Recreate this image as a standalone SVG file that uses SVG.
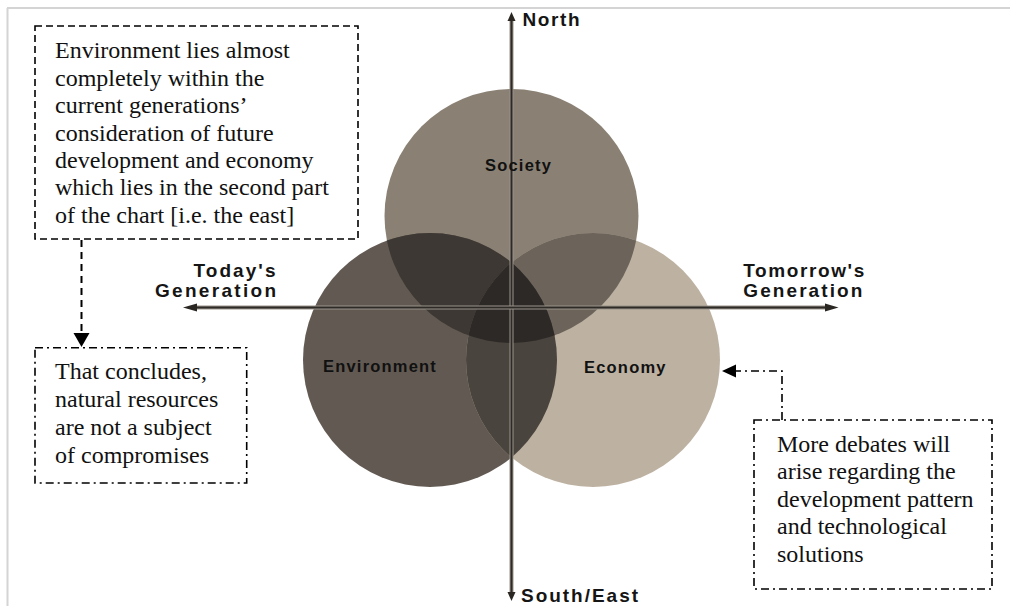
<svg xmlns="http://www.w3.org/2000/svg" width="1010" height="606" viewBox="0 0 1010 606">
<style>
.box{fill:none;stroke:#000;stroke-width:1.6}
.dash{stroke-dasharray:7 4}
.dd{stroke-dasharray:8 4 2 4}
.t{font-family:"Liberation Serif","Times New Roman",serif;font-size:24px;fill:#111}
.lb{font-family:"Liberation Sans",Arial,sans-serif;font-weight:bold;font-size:19px;fill:#151515}
.cl{font-family:"Liberation Sans",Arial,sans-serif;font-weight:bold;font-size:16.5px;letter-spacing:1.2px;fill:#111}
.ax1{stroke:#9a938c;stroke-width:4;fill:none}
.ax2{stroke:#2e2a26;stroke-width:2;fill:none}
.axh{fill:#2a2622}
</style>
<defs>
<clipPath id="cSoc"><circle cx="511.5" cy="216" r="127"/></clipPath>
<clipPath id="cEnv"><circle cx="430" cy="360" r="127"/></clipPath>
<clipPath id="cEco"><circle cx="593" cy="360" r="127"/></clipPath>
</defs>
<rect width="1010" height="606" fill="#fff"/>
<g id="frame" stroke="#d4d4d4" stroke-width="2" fill="none">
<line x1="7" y1="8" x2="1010" y2="8"/>
<line x1="7.5" y1="8" x2="7.5" y2="606"/>
</g>
<g id="node-society">
<circle cx="511.5" cy="216" r="127" fill="#8a8174"/>
</g>
<g id="node-environment">
<circle cx="430" cy="360" r="127" fill="#625a52"/>
</g>
<g id="node-economy">
<circle cx="593" cy="360" r="127" fill="#bdb1a1"/>
</g>
<g id="overlaps">
<circle cx="430" cy="360" r="127" fill="#3d3833" clip-path="url(#cSoc)"/>
<circle cx="593" cy="360" r="127" fill="#6c645a" clip-path="url(#cSoc)"/>
<circle cx="593" cy="360" r="127" fill="#4a443e" clip-path="url(#cEnv)"/>
<g clip-path="url(#cSoc)"><circle cx="593" cy="360" r="127" fill="#2d2926" clip-path="url(#cEnv)"/></g>
</g>
<g id="axes">
<line class="ax1" x1="511.5" y1="20" x2="511.5" y2="593"/>
<line class="ax2" x1="511.5" y1="20" x2="511.5" y2="593"/>
<line class="ax1" x1="196" y1="307.5" x2="826" y2="307.5"/>
<line class="ax2" x1="196" y1="307.5" x2="826" y2="307.5"/>
<polygon class="axh" points="511.5,12 507.5,21 515.5,21"/>
<polygon class="axh" points="511.5,601 507.5,592 515.5,592"/>
<polygon class="axh" points="183,307.5 197,303.5 197,311.5"/>
<polygon class="axh" points="838.5,307.5 825,303.5 825,311.5"/>
</g>
<g id="labels">
<text class="lb" x="522.5" y="26" textLength="57" lengthAdjust="spacing">North</text>
<text class="lb" x="521" y="602" textLength="117" lengthAdjust="spacing">South/East</text>
<text class="lb" x="193.5" y="277.3" textLength="82" lengthAdjust="spacing">Today's</text>
<text class="lb" x="155" y="297.3" textLength="121" lengthAdjust="spacing">Generation</text>
<text class="lb" x="743.3" y="276.7" textLength="121" lengthAdjust="spacing">Tomorrow's</text>
<text class="lb" x="743.3" y="296.7" textLength="119" lengthAdjust="spacing">Generation</text>
<text class="cl" x="485" y="171">Society</text>
<text class="cl" x="323" y="371.7">Environment</text>
<text class="cl" x="584" y="372.7">Economy</text>
</g>
<g id="node-box1">
<rect class="box dash" x="35" y="26" width="323" height="213"/>
<text class="t" x="55" y="58.3">Environment lies almost</text>
<text class="t" x="55" y="85.7">completely within the</text>
<text class="t" x="55" y="113.1">current generations’</text>
<text class="t" x="55" y="140.5">consideration of future</text>
<text class="t" x="55" y="167.9">development and economy</text>
<text class="t" x="55" y="195.3">which lies in the second part</text>
<text class="t" x="55" y="222.7">of the chart [i.e. the east]</text>
</g>
<g id="node-box2">
<rect class="box dd" x="35" y="347.7" width="211.7" height="135.3"/>
<text class="t" x="55" y="379.4">That concludes,</text>
<text class="t" x="55" y="407.2">natural resources</text>
<text class="t" x="55" y="435">are not a subject</text>
<text class="t" x="55" y="462.8">of compromises</text>
</g>
<g id="node-box3">
<rect class="box dd" x="754" y="420" width="238" height="169"/>
<text class="t" x="777" y="451.7">More debates will</text>
<text class="t" x="777" y="479.2">arise regarding the</text>
<text class="t" x="777" y="506.7">development pattern</text>
<text class="t" x="777" y="534.2">and technological</text>
<text class="t" x="777" y="561.7">solutions</text>
</g>
<g id="connectors">
<line x1="81.5" y1="240" x2="81.5" y2="333" stroke="#000" stroke-width="2" stroke-dasharray="7 5"/>
<polygon points="73.5,333 89.5,333 81.5,347" fill="#000"/>
<polyline points="782,420 782,371 736,371" fill="none" stroke="#000" stroke-width="1.6" stroke-dasharray="8 4 2 4"/>
<polygon points="722,371 736,364.5 736,377.5" fill="#000"/>
</g>
</svg>
